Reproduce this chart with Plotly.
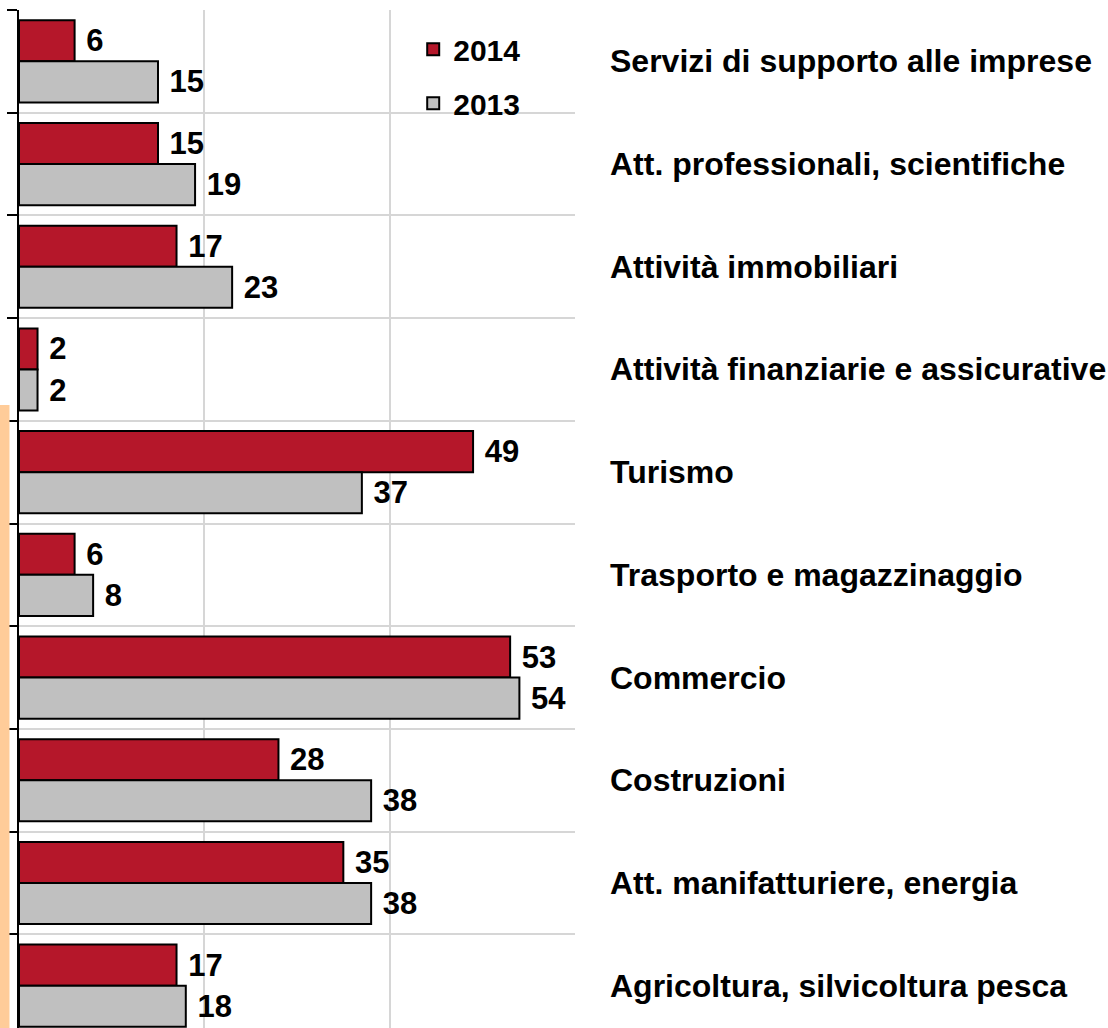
import plotly.graph_objects as go

# Sectors listed from top to bottom of the chart
categories = [
    "Servizi di supporto alle imprese",
    "Att. professionali, scientifiche",
    "Attività immobiliari",
    "Attività finanziarie e assicurative",
    "Turismo",
    "Trasporto e magazzinaggio",
    "Commercio",
    "Costruzioni",
    "Att. manifatturiere, energia",
    "Agricoltura, silvicoltura pesca",
]
values_2014 = [6, 15, 17, 2, 49, 6, 53, 28, 35, 17]
values_2013 = [15, 19, 23, 2, 37, 8, 54, 38, 38, 18]
series_names = ["2014", "2013"]

n = len(categories)
# numeric positions: first category at the top
pos = [n - 1 - i for i in range(n)]

FONT = "Liberation Sans, Arial, sans-serif"
RED = "#B5172A"
GREY = "#C0C0C0"
LABEL_SIZE = 31

fig = go.Figure()
fig.add_trace(go.Bar(
    name=series_names[0], y=pos, x=values_2014, orientation="h",
    offset=0.0, width=0.4,
    marker=dict(color=RED, line=dict(color="black", width=2)),
    text=values_2014, texttemplate=" %{x}", textposition="outside",
    constraintext="none", cliponaxis=False,
    textfont=dict(family=FONT, size=LABEL_SIZE, color="black", weight="bold"),
    legendgroup="a",
))
fig.add_trace(go.Bar(
    name=series_names[1], y=pos, x=values_2013, orientation="h",
    offset=-0.4, width=0.4,
    marker=dict(color=GREY, line=dict(color="black", width=2)),
    text=values_2013, texttemplate=" %{x}", textposition="outside",
    constraintext="none", cliponaxis=False,
    textfont=dict(family=FONT, size=LABEL_SIZE, color="black", weight="bold"),
    legendgroup="b",
))

# sector names to the right of the plot area
for p, name in zip(pos, categories):
    fig.add_annotation(
        x=1.059, xref="paper", y=p, yref="y", text=name, showarrow=False,
        xanchor="left", yanchor="middle",
        font=dict(family=FONT, size=32, color="black", weight="bold"),
    )

# decorative orange strip along the left edge
fig.add_shape(type="rect", xref="paper", yref="paper",
              x0=-0.0342, x1=-0.0171, y0=-0.01, y1=0.612,
              fillcolor="#FFCC99", line=dict(width=0), layer="above")

fig.update_layout(
    width=1108, height=1028,
    margin=dict(l=19, r=533, t=10, b=0),
    plot_bgcolor="white", paper_bgcolor="white",
    barmode="overlay",
    showlegend=True,
    legend=dict(
        x=0.709, y=0.987, xanchor="left", yanchor="top",
        font=dict(family=FONT, size=30, color="black", weight="bold"),
        bgcolor="rgba(0,0,0,0)", tracegroupgap=12,
        traceorder="grouped",
    ),
    xaxis=dict(
        range=[0, 60], tickvals=[0, 20, 40, 60], showticklabels=False,
        showgrid=True, gridcolor="#D6D6D6", gridwidth=2,
        zeroline=False, showline=False, ticks="",
    ),
    yaxis=dict(
        range=[-0.412, n - 0.5],
        tickvals=[p + 0.5 for p in range(n)], showticklabels=False,
        showgrid=True, gridcolor="#D6D6D6", gridwidth=2,
        ticks="outside", ticklen=10, tickwidth=2, tickcolor="black",
        showline=True, linecolor="black", linewidth=2,
        zeroline=False,
    ),
)

fig.write_html("out.html")
